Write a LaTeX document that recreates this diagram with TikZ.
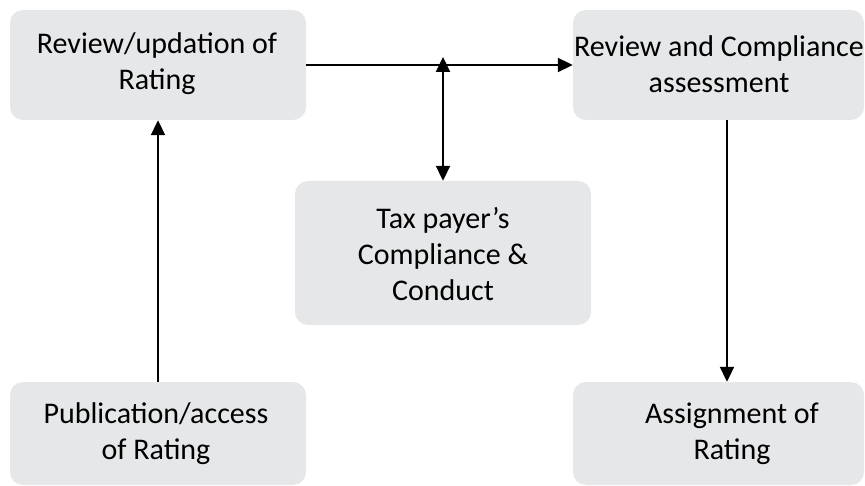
\documentclass[tikz,border=0pt]{standalone}
\usepackage{fontspec}
\setmainfont{Carlito}
\usetikzlibrary{arrows.meta}
\definecolor{boxgray}{RGB}{230,231,232}
\tikzset{
  card/.style={fill=boxgray, rounded corners=13pt, inner sep=0pt, draw=none},
  cardtext/.style={align=center, font=\fontsize{30}{36}\selectfont, inner sep=0pt},
  flow/.style={line width=2pt, -{Triangle[length=15pt,width=14pt]}},
  twoway/.style={line width=2pt, {Triangle[length=15pt,width=14pt]}-{Triangle[length=15pt,width=14pt]}}
}
\begin{document}
\begin{tikzpicture}[x=1pt,y=-1pt]
\useasboundingbox (0,0) rectangle (865,486);
% boxes
\node[card, minimum width=296pt, minimum height=110pt] (review) at (158,65) {};
\node[card, minimum width=291pt, minimum height=110pt] (assess) at (718.5,65) {};
\node[card, minimum width=296pt, minimum height=144pt] (tax) at (443,253) {};
\node[card, minimum width=296pt, minimum height=103pt] (publish) at (158,433.5) {};
\node[card, minimum width=291pt, minimum height=103pt] (assign) at (718.5,433.5) {};
% labels
\node[cardtext] (reviewtxt) at (157,64) {Review/updation of\\Rating};
\node[cardtext] (assesstxt) at (719,64) {Review and Compliance\\assessment};
\node[cardtext] (taxtxt) at (443,254) {Tax payer’s\\Compliance \&\\Conduct};
\node[cardtext] (publishtxt) at (156,434) {Publication/access\\of Rating};
\node[cardtext] (assigntxt) at (732,434) {Assignment of\\Rating};
% connectors
\coordinate (tee) at (443,57);
\draw[flow] (review.east) -- (assess.west);
\draw[twoway] (tee) -- (tax.north);
\draw[flow] (publish.north) -- (review.south);
\draw[flow] (assess.south -| 727,0) -- (assign.north -| 727,0);
\end{tikzpicture}
\end{document}
